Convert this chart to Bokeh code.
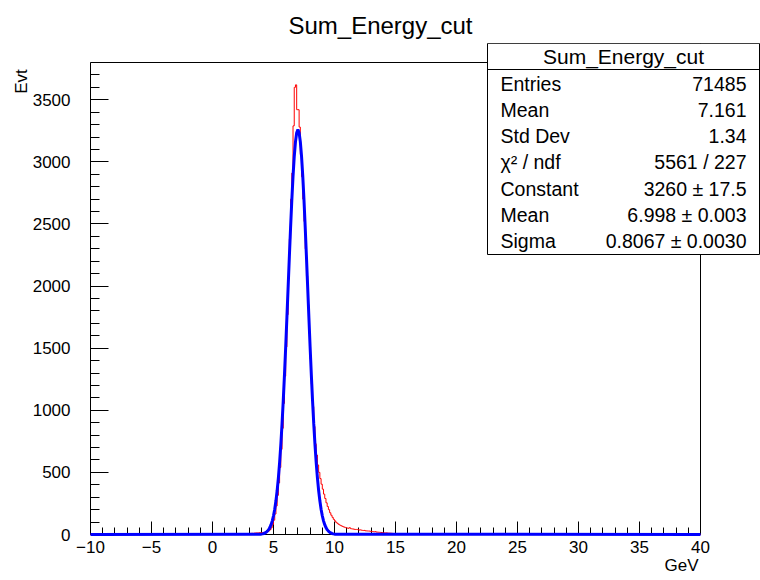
import numpy as np
from bokeh.plotting import figure
from bokeh.models import (Range1d, SingleIntervalTicker, FixedTicker, Label, BoxAnnotation,
                          Span, LinearAxis)
from bokeh.embed import file_html
from bokeh.resources import INLINE

# ---------------- data ----------------
# Histogram Sum_Energy_cut: 0.1 GeV bins from -10 to 40 GeV, non-empty bins start at 2.3 GeV
bin_width = 0.1
hist_lo = -10.0
hist_hi = 40.0
y_max = 3800
counts_start = 2.3
counts = [
    2, 3, 4, 5, 4, 6, 7,                                          # 2.3 - 2.9
    8, 9, 10, 9, 11, 12, 13, 12, 14, 15,                          # 3.0 - 3.9
    16, 15, 17, 19, 21, 24, 30, 40, 55, 80,                       # 4.0 - 4.9
    115, 165, 230, 315, 415, 540, 685, 855, 1055, 1275,           # 5.0 - 5.9
    1510, 1770, 2060, 2380, 2700, 2910, 3290, 3600, 3620, 3420,   # 6.0 - 6.9
    3420, 3280, 3060, 2880, 2700, 2520, 2300, 2080, 1850, 1620,   # 7.0 - 7.9
    1410, 1210, 1030, 870, 730, 640, 560, 500, 450, 405,          # 8.0 - 8.9
    365, 325, 290, 255, 225, 200, 175, 155, 138, 122,             # 9.0 - 9.9
    110, 98, 90, 82, 76, 71, 66, 62, 58, 55,                      # 10.0 - 10.9
    52, 50, 55, 47, 45, 44, 42, 40, 41, 38,                       # 11.0 - 11.9
    36, 37, 34, 32, 33, 30, 29, 28, 28, 26,                       # 12.0 - 12.9
    25, 24, 22, 23, 20, 19, 18, 17, 16, 15,                       # 13.0 - 13.9
    14, 13, 13, 12, 11, 11, 10, 9, 8, 7,                          # 14.0 - 14.9
    6, 5, 4, 4, 3, 3, 2, 2, 2, 1,                                 # 15.0 - 15.9
    1, 1, 0, 1, 0, 0, 1, 0, 0, 0,                                 # 16.0 - 16.9
]

# Gaussian fit curve (blue), sampled every 0.1 GeV from 4.0 to 10.0 GeV, zero elsewhere
fit_x_inner = [round(4.0 + 0.1 * i, 1) for i in range(61)]
fit_y_inner = [
    3, 5, 8, 12, 18, 27, 39, 56, 79, 110,
    151, 204, 271, 354, 456, 579, 723, 890, 1078, 1287,
    1512, 1750, 1994, 2237, 2472, 2690, 2883, 3042, 3161, 3235,
    3260,
    3235, 3161, 3042, 2883, 2690, 2472, 2237, 1994, 1750, 1512,
    1287, 1078, 890, 723, 579, 456, 354, 271, 204, 151,
    110, 79, 56, 39, 27, 18, 12, 8, 5, 3,
]
fit_x = [hist_lo] + fit_x_inner + [hist_hi]
fit_y = [0] + fit_y_inner + [0]

title_text = "Sum_Energy_cut"
x_title = "GeV"
y_title = "Evt"
x_tick_labels = {-10: "\u221210", -5: "\u22125"}
stats_header = "Sum_Energy_cut"
stats_labels = ["Entries", "Mean", "Std Dev", "\u03c7\u00b2 / ndf", "Constant", "Mean", "Sigma"]
stats_values = ["71485", "7.161", "1.34", "5561 / 227", "3260 \u00b1 17.5",
                "6.998 \u00b1 0.003", "0.8067 \u00b1 0.0030"]

# ---------------- build histogram arrays ----------------
n_bins = int(round((hist_hi - hist_lo) / bin_width))
edges = hist_lo + bin_width * np.arange(n_bins + 1)
full = np.zeros(n_bins)
i0 = int(round((counts_start - hist_lo) / bin_width))
full[i0:i0 + len(counts)] = counts
step_y = np.append(full, full[-1])

# ---------------- layout (canvas px) ----------------
W, H = 760, 580
AX_L, AX_R, AX_T, AX_B = 90, 700, 62, 534     # ROOT axis frame
FR_T, FR_R = 43, 760                          # bokeh frame extends to hold the stats box
FONT = "Liberation Sans"

px_per_x = (AX_R - AX_L) / (hist_hi - hist_lo)
px_per_y = (AX_B - AX_T) / y_max
x_end = hist_hi + (FR_R - AX_R) / px_per_x
y_end = y_max + (AX_T - FR_T) / px_per_y

def data_x(px):
    return hist_lo + (px - AX_L) / px_per_x

def data_y(py):
    return (AX_B - py) / px_per_y

p = figure(width=W, height=H, x_range=Range1d(hist_lo, x_end), y_range=Range1d(0, y_end),
           output_backend="svg", toolbar_location=None, title=None,
           min_border_left=AX_L, min_border_right=W - FR_R,
           min_border_top=FR_T, min_border_bottom=H - AX_B)
p.grid.visible = False
p.outline_line_color = None
p.background_fill_color = "white"
p.border_fill_color = "white"

p.step(x=edges, y=step_y, mode="after", line_color="#ff0000", line_width=1, level="overlay")
p.line(x=fit_x, y=fit_y, line_color="#0000ff", line_width=3, level="overlay")

# axes
p.xaxis.ticker = SingleIntervalTicker(interval=5, num_minor_ticks=5)
p.yaxis.ticker = SingleIntervalTicker(interval=500, num_minor_ticks=5)
p.xaxis.bounds = (hist_lo, hist_hi)
p.yaxis.bounds = (0, y_max)
for ax in (p.xaxis, p.yaxis):
    ax.axis_line_color = "black"
    ax.major_tick_line_color = "black"
    ax.minor_tick_line_color = "black"
    ax.major_tick_out = 0
    ax.minor_tick_out = 0
    ax.major_label_text_font = FONT
    ax.major_label_text_font_size = "17px"
    ax.major_label_text_color = "black"
p.xaxis.major_tick_in = 13
p.xaxis.minor_tick_in = 7
p.yaxis.major_tick_in = 18
p.yaxis.minor_tick_in = 9
p.xaxis.major_label_standoff = 6
p.yaxis.major_label_standoff = 20
p.xaxis.major_label_overrides = x_tick_labels

def text_axis(pos, text, size, standoff, orientation="horizontal"):
    ax = LinearAxis(ticker=FixedTicker(ticks=[pos], minor_ticks=[]),
                    major_label_overrides={pos: text},
                    axis_line_color=None, major_tick_line_color=None,
                    minor_tick_line_color=None, major_label_standoff=standoff,
                    major_label_text_font=FONT, major_label_text_font_size=size,
                    major_label_text_color="black", major_label_orientation=orientation,
                    major_tick_in=0, major_tick_out=0)
    return ax

# title (above), x title (below, right end), y title (left, top end)
p.add_layout(text_axis(round(data_x(380), 3), title_text, "24px", 5), "above")
p.add_layout(text_axis(round(data_x(681), 3), x_title, "17px", 0), "below")
p.add_layout(text_axis(round(data_y(81), 1), y_title, "17px", -2, "vertical"), "left")

# frame top and right edges
p.add_layout(Span(location=y_max, dimension="width", line_color="black", line_width=1))
p.add_layout(Span(location=hist_hi, dimension="height", line_color="black", line_width=1))

def sx(x):
    return x - AX_L

def sy(y):
    return AX_B - y

# stats box
BL, BR, BT, BB = 487, 759, 43, 254
p.add_layout(BoxAnnotation(left=sx(BL), right=sx(BR), top=sy(BT), bottom=sy(BB),
                           left_units="screen", right_units="screen",
                           top_units="screen", bottom_units="screen",
                           fill_color="white", fill_alpha=1.0, line_color="black",
                           line_width=1, line_alpha=1.0))
p.add_layout(BoxAnnotation(left=sx(BL), right=sx(BR), top=sy(BT), bottom=sy(69),
                           left_units="screen", right_units="screen",
                           top_units="screen", bottom_units="screen",
                           fill_alpha=0.0, line_color="black", line_width=1, line_alpha=1.0))
p.add_layout(Label(x=sx((BL + BR) / 2), y=sy(56), x_units="screen", y_units="screen",
                   text=stats_header, text_align="center", text_baseline="middle",
                   text_font=FONT, text_font_size="21px", text_color="black"))
for i, (lab, val) in enumerate(zip(stats_labels, stats_values)):
    yy = 83 + 26.3 * i
    p.add_layout(Label(x=sx(500), y=sy(yy), x_units="screen", y_units="screen", text=lab,
                       text_align="left", text_baseline="middle", text_font=FONT,
                       text_font_size="19.5px", text_color="black"))
    p.add_layout(Label(x=sx(746), y=sy(yy), x_units="screen", y_units="screen", text=val,
                       text_align="right", text_baseline="middle", text_font=FONT,
                       text_font_size="19.5px", text_color="black"))

open("out.html", "w").write(file_html(p, INLINE))
